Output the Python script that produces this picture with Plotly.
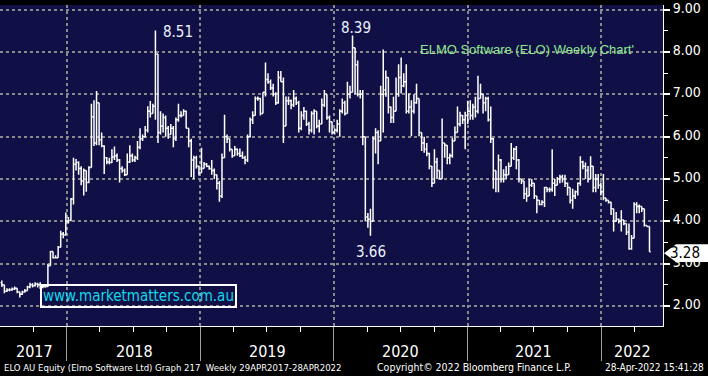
import pandas as pd
import plotly.graph_objects as go

# ---------------- data (weekly bars) ----------------
highs = [2.60, 2.45, 2.42, 2.42, 2.44, 2.46, 2.42, 2.34, 2.36, 2.40,
         2.48, 2.55, 2.54, 2.56, 2.55, 2.56, 2.50, 2.50, 3.00, 3.30,
         3.29, 3.20, 3.42, 3.78, 3.75, 4.21, 4.10, 4.55, 5.50, 5.47,
         5.42, 5.30, 5.25, 5.20, 5.30, 6.78, 6.86, 7.08, 6.80, 6.10,
         5.80, 5.52, 5.50, 5.70, 5.77, 5.60, 5.47, 5.30, 5.25, 5.60,
         5.80, 5.60, 5.55, 5.90, 6.20, 6.05, 6.25, 6.72, 6.84, 6.78,
         8.51, 7.95, 6.60, 6.55, 6.50, 6.25, 6.30, 6.25, 6.45, 6.78,
         6.60, 6.65, 6.62, 6.20, 5.95, 5.55, 5.55, 5.32, 5.74, 5.40,
         5.38, 5.32, 5.45, 5.25, 5.10, 4.95, 5.60, 6.52, 6.05, 5.95,
         5.70, 5.78, 5.72, 5.72, 5.65, 5.55, 6.05, 6.45, 6.60, 6.95,
         6.95, 6.92, 7.05, 7.75, 7.50, 7.35, 7.25, 7.05, 7.55, 7.55,
         7.40, 6.95, 6.95, 6.88, 7.10, 6.95, 6.85, 6.60, 6.70, 6.62,
         6.35, 6.60, 6.65, 6.60, 6.40, 6.90, 7.10, 7.00, 6.50, 6.35,
         6.20, 6.40, 6.65, 6.90, 6.85, 7.30, 7.20, 8.39, 8.10, 7.80,
         7.10, 7.10, 6.00, 4.20, 4.30, 6.00, 6.20, 6.15, 7.20, 8.06,
         7.56, 7.40, 6.71, 6.94, 7.40, 7.71, 7.87, 7.50, 7.71, 7.02,
         6.86, 7.00, 7.25, 6.90, 6.09, 6.00, 5.85, 5.62, 5.31, 5.70,
         5.50, 5.20, 6.43, 5.85, 5.80, 5.60, 5.97, 6.24, 6.71, 6.59,
         6.51, 6.59, 6.85, 6.86, 6.78, 6.94, 7.44, 7.25, 7.02, 6.94,
         6.94, 6.71, 5.97, 5.20, 5.58, 5.47, 5.23, 5.31, 5.39, 5.85,
         5.74, 5.78, 5.47, 5.00, 4.95, 4.80, 5.00, 5.00, 4.90, 4.60,
         4.50, 4.50, 4.81, 4.80, 4.80, 5.70, 5.00, 5.05, 5.10, 5.10,
         5.10, 4.92, 4.80, 4.77, 4.73, 4.92, 5.54, 5.43, 5.39, 5.31,
         5.54, 5.31, 5.12, 5.12, 4.92, 5.12, 4.55, 4.50, 4.46, 4.30,
         4.22, 4.07, 4.26, 4.03, 3.95, 3.95, 3.68, 4.45, 4.45, 4.40,
         4.35, 4.30, 3.90, 3.88]
lows = [2.45, 2.30, 2.33, 2.35, 2.36, 2.38, 2.30, 2.20, 2.26, 2.32,
        2.36, 2.42, 2.44, 2.46, 2.44, 2.40, 2.42, 2.43, 2.45, 2.95,
        3.12, 3.12, 3.14, 3.38, 3.60, 3.68, 3.95, 4.00, 4.40, 5.20,
        5.10, 4.85, 4.61, 4.70, 4.90, 5.30, 5.78, 5.80, 5.80, 5.75,
        5.12, 5.35, 5.35, 5.38, 5.45, 5.40, 4.92, 5.15, 5.07, 5.10,
        5.38, 5.40, 5.40, 5.45, 5.70, 5.90, 5.98, 6.10, 6.45, 6.55,
        6.40, 5.85, 6.05, 6.10, 6.00, 5.95, 6.05, 5.75, 5.90, 6.35,
        6.45, 6.50, 6.20, 5.75, 5.05, 5.00, 5.25, 5.08, 5.15, 5.30,
        5.28, 5.22, 5.10, 5.00, 4.75, 4.46, 4.55, 5.50, 5.85, 5.65,
        5.50, 5.55, 5.55, 5.52, 5.48, 5.35, 5.40, 5.98, 6.30, 6.50,
        6.85, 6.50, 6.55, 6.95, 7.25, 7.10, 6.95, 6.75, 6.78, 7.30,
        5.85, 6.25, 6.75, 6.65, 6.70, 6.75, 6.10, 6.15, 6.40, 6.25,
        6.05, 6.10, 6.05, 6.20, 6.10, 6.30, 6.70, 6.40, 6.10, 6.05,
        6.05, 6.10, 6.00, 6.55, 6.50, 6.55, 6.90, 7.05, 7.00, 6.95,
        6.90, 5.80, 4.00, 3.85, 3.66, 4.10, 5.60, 5.35, 5.90, 6.10,
        6.94, 6.55, 6.32, 6.32, 6.60, 6.94, 7.02, 7.17, 6.55, 6.55,
        6.01, 6.55, 6.78, 6.01, 5.66, 5.62, 5.54, 5.23, 4.81, 4.90,
        5.00, 5.00, 5.00, 5.50, 5.35, 5.35, 5.50, 5.90, 6.10, 6.24,
        6.30, 5.70, 6.30, 6.40, 6.40, 6.45, 6.55, 6.90, 6.55, 6.60,
        6.36, 5.85, 4.77, 4.69, 4.69, 4.92, 4.92, 5.00, 5.10, 5.30,
        5.45, 5.23, 4.92, 4.88, 4.53, 4.46, 4.60, 4.81, 4.53, 4.19,
        4.38, 4.38, 4.34, 4.69, 4.69, 4.70, 4.60, 4.85, 4.90, 4.92,
        4.81, 4.61, 4.42, 4.30, 4.53, 4.61, 4.84, 5.23, 5.00, 4.92,
        5.00, 4.69, 4.69, 4.77, 4.61, 4.50, 4.46, 4.42, 4.15, 3.76,
        3.99, 3.95, 3.76, 3.91, 3.68, 3.33, 3.33, 3.60, 4.19, 4.19,
        4.22, 3.88, 3.88, 3.28]
closes = [2.50, 2.35, 2.38, 2.38, 2.40, 2.42, 2.33, 2.28, 2.33, 2.36,
          2.45, 2.50, 2.48, 2.52, 2.50, 2.45, 2.46, 2.46, 2.95, 3.29,
          3.14, 3.14, 3.39, 3.70, 3.68, 4.00, 4.02, 4.53, 5.35, 5.39,
          5.25, 4.95, 5.20, 4.92, 5.27, 6.47, 5.85, 6.80, 5.93, 5.78,
          5.50, 5.40, 5.39, 5.52, 5.55, 5.45, 5.25, 5.20, 5.10, 5.40,
          5.55, 5.45, 5.50, 5.75, 5.95, 6.00, 6.15, 6.60, 6.55, 6.72,
          7.95, 6.10, 6.25, 6.45, 6.20, 6.05, 6.20, 5.95, 6.40, 6.50,
          6.50, 6.60, 6.20, 5.90, 5.45, 5.50, 5.30, 5.15, 5.25, 5.35,
          5.30, 5.25, 5.20, 5.10, 4.90, 4.60, 5.50, 6.00, 5.95, 5.70,
          5.55, 5.70, 5.60, 5.55, 5.50, 5.45, 6.00, 6.40, 6.50, 6.90,
          6.90, 6.55, 7.05, 7.35, 7.30, 7.15, 7.00, 6.80, 7.40, 7.30,
          6.25, 6.85, 6.85, 6.75, 6.90, 6.80, 6.20, 6.50, 6.60, 6.30,
          6.15, 6.55, 6.60, 6.25, 6.30, 6.75, 7.00, 6.45, 6.35, 6.10,
          6.15, 6.30, 6.60, 6.80, 6.55, 7.00, 7.05, 8.10, 7.70, 7.00,
          7.00, 6.00, 4.10, 4.05, 4.00, 5.95, 6.10, 5.90, 7.00, 7.10,
          7.40, 6.70, 6.45, 6.60, 7.00, 7.40, 7.20, 7.30, 6.60, 6.70,
          6.60, 6.80, 6.90, 6.10, 5.85, 5.70, 5.60, 5.30, 4.90, 5.40,
          5.20, 5.00, 5.85, 5.80, 5.50, 5.55, 5.90, 6.10, 6.30, 6.50,
          6.40, 6.50, 6.60, 6.50, 6.70, 6.60, 6.90, 7.00, 6.80, 6.90,
          6.40, 5.95, 5.20, 5.00, 5.45, 5.00, 5.10, 5.10, 5.30, 5.50,
          5.70, 5.45, 5.00, 4.95, 4.65, 4.60, 4.85, 4.90, 4.60, 4.50,
          4.40, 4.45, 4.80, 4.75, 4.75, 4.90, 4.85, 5.00, 5.05, 5.00,
          4.90, 4.80, 4.50, 4.60, 4.70, 4.90, 5.40, 5.30, 5.20, 5.00,
          5.30, 4.80, 5.00, 4.85, 4.70, 4.55, 4.50, 4.45, 4.30, 4.00,
          4.05, 4.00, 4.03, 3.95, 3.75, 3.35, 3.60, 4.40, 4.35, 4.35,
          4.30, 3.90, 3.88, 3.28]
first_open = 2.55
first_bar_date = "2017-07-07"

y_tick_vals = [2, 3, 4, 5, 6, 7, 8, 9]
y_tick_text = ["2.00", "3.00", "4.00", "5.00", "6.00", "7.00", "8.00", "9.00"]
year_labels = ["2017", "2018", "2019", "2020", "2021", "2022"]
year_starts = ["2018-01-01", "2019-01-01", "2020-01-01", "2021-01-01", "2022-01-01"]
last_price = "3.28"
hi_label_1, hi_label_2, lo_label = "8.51", "8.39", "3.66"

# ---------------- derived ----------------
dates = pd.date_range(start=first_bar_date, periods=len(closes), freq="W-FRI")
opens = [first_open] + closes[:-1]
H = [max(h, o, c) for h, o, c in zip(highs, opens, closes)]
L = [min(l, o, c) for l, o, c in zip(lows, opens, closes)]

PW, PH = 663.0, 326.0  # plot area size in px


def px(x):
    return x / PW


def py(y):
    return (PH - y) / PH


fig = go.Figure()
fig.add_trace(go.Ohlc(
    x=dates, open=opens, high=H, low=L, close=closes,
    increasing=dict(line=dict(color="white", width=1.5)),
    decreasing=dict(line=dict(color="white", width=1.5)),
    tickwidth=0.5, showlegend=False, hoverinfo="skip",
))

NARROW = "Liberation Sans Narrow, Arial Narrow, DejaVu Sans Condensed, sans-serif"
ARIAL = "Liberation Sans, Arial, sans-serif"

fig.update_layout(
    width=708, height=376,
    margin=dict(l=0, r=45, t=0, b=50),
    paper_bgcolor="black",
    plot_bgcolor="#101046",
    showlegend=False,
    xaxis=dict(
        type="date",
        range=["2017-07-02", "2022-06-19"],
        rangeslider=dict(visible=False),
        showticklabels=False,
        tickmode="array", tickvals=year_starts,
        ticks="outside", ticklen=34, tickwidth=1, tickcolor="#a0a0a0",
        showgrid=True, gridcolor="#8a8a8a", gridwidth=2, griddash="dot",
        showline=True, linecolor="white", linewidth=1,
        minor=dict(dtick="M3", tick0="2017-01-01", ticks="outside",
                   ticklen=5, tickwidth=1, tickcolor="white", showgrid=False),
        zeroline=False, fixedrange=True,
    ),
    yaxis=dict(
        side="right",
        range=[1.528, 9.11],
        tickmode="array", tickvals=y_tick_vals, ticktext=y_tick_text,
        tickfont=dict(family=NARROW, size=14, color="white"),
        ticklabelshift=-2, ticklabeloverflow="allow",
        ticks="outside", ticklen=6, tickwidth=2, tickcolor="white",
        showgrid=True, gridcolor="#8a8a8a", gridwidth=2, griddash="dot",
        showline=True, linecolor="white", linewidth=1,
        minor=dict(dtick=0.5, tick0=1.5, ticks="outside", ticklen=4,
                   tickwidth=1, tickcolor="white", showgrid=False),
        zeroline=False, fixedrange=True,
    ),
)


def label(text, x, y, size, color, family=NARROW, xanchor="center", **kw):
    return dict(text=text, x=px(x), y=py(y), xref="paper", yref="paper", showarrow=False,
                xanchor=xanchor, yanchor="middle",
                font=dict(family=family, size=size, color=color), **kw)


annotations = []
for lab, xp in zip(year_labels, [34, 134, 267, 400, 533, 632]):
    annotations.append(label(lab, xp, 352, 16, "white"))
annotations += [
    label(hi_label_1, 178, 27, 15, "#eef4ff"),
    label(hi_label_2, 356, 23, 15, "#eef4ff"),
    label(lo_label, 371, 251, 15, "#eef4ff"),
    label("ELMO Software (ELO) Weekly Chart'", 527, 45, 13, "#8fe88f", family=ARIAL),
    label("www.marketmatters.com.au", 138, 296, 15, "#12d8e8",
          bordercolor="white", borderwidth=2, borderpad=1),
    label(last_price, 685, 252, 15, "black"),
    label("ELO AU Equity (Elmo Software Ltd) Graph 217  Weekly 29APR2017-28APR2022",
          2, 368, 9.5, "white", xanchor="left"),
    label("Copyright\u00a9 2022 Bloomberg Finance L.P.", 474, 368, 10.5, "white"),
    label("28-Apr-2022 15:41:28", 706, 368, 10, "white", xanchor="right"),
]
fig.update_layout(annotations=annotations)

# last price flag
path = "M {:.4f},{:.4f} L {:.4f},{:.4f} L {:.4f},{:.4f} L {:.4f},{:.4f} L {:.4f},{:.4f} Z".format(
    px(664), py(252), px(676), py(243), px(708), py(243), px(708), py(261), px(676), py(261))
fig.add_shape(type="path", path=path, xref="paper", yref="paper",
              fillcolor="white", line=dict(width=0), layer="above")

fig.write_html("out.html", config={"displayModeBar": False},
               post_script="document.body.style.margin='0';document.body.style.overflow='hidden';")
